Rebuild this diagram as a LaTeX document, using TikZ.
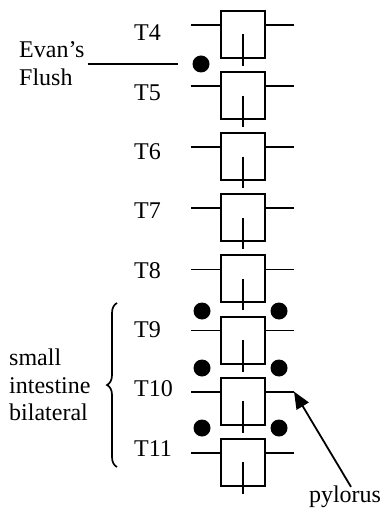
\documentclass[tikz,border=0pt]{standalone}
\usepackage{fontspec}
\setmainfont{Liberation Serif}
\usetikzlibrary{arrows.meta,decorations.pathreplacing}
\begin{document}
\begin{tikzpicture}[x=1pt,y=-1pt,
  vert/.style={draw,line width=2pt,minimum width=44pt,minimum height=47pt,inner sep=0pt,anchor=north west},
  lbl/.style={font=\fontsize{24}{28}\selectfont,anchor=west,inner sep=0pt},
  seg/.style={line width=1.8pt},
  dot/.style={circle,fill=black,minimum size=17pt,inner sep=0pt}]
\useasboundingbox (0,0) rectangle (382,510);

\foreach \n/\i in {4/0,5/1,6/2,7/3,8/4,9/5,10/6,11/7}{
  \node[vert] (v\n) at (220,{10+61.1*\i}) {};
  \coordinate (l\n) at ([xshift=-29pt,yshift=-15pt]v\n.north west);
  \coordinate (r\n) at ([xshift=28pt,yshift=-15pt]v\n.north east);
  \draw[seg] ([yshift=-15pt]v\n.north west) -- (l\n);
  \draw[seg] ([yshift=-15pt]v\n.north east) -- (r\n);
  \draw[seg] (v\n.center) -- ([yshift=-7pt]v\n.south);
  \node[lbl] (t\n) at (134,{33+59.3*\i}) {T\n};
}

\node[dot] (d45) at (201,64) {};
\node[dot] (d9l) at (202,311) {};
\node[dot] (d9r) at (279,311) {};
\node[dot] (d10l) at (202,368) {};
\node[dot] (d10r) at (279,368) {};
\node[dot] (d11l) at (202,428) {};
\node[dot] (d11r) at (279,428) {};

\node[lbl,align=left,font=\fontsize{24}{28}\selectfont] (ev) at (19,64) {Evan’s\\Flush};
\coordinate (evend) at (178,64);
\draw[seg] ([xshift=3pt]ev.east) -- (evend);

\draw[line width=1.7pt,decorate,decoration={brace,amplitude=10pt}] (117,467) -- (117,303);
\node[lbl,align=left,font=\fontsize{24}{27.5}\selectfont] (si) at (9,385) {small\\intestine\\bilateral};

\node[lbl,anchor=center] (py) at (345,497) {pylorus};
\draw[seg,-{Triangle[length=17pt,width=14pt]}] ([xshift=6pt,yshift=-1pt]py.north) -- (r10);
\end{tikzpicture}
\end{document}
